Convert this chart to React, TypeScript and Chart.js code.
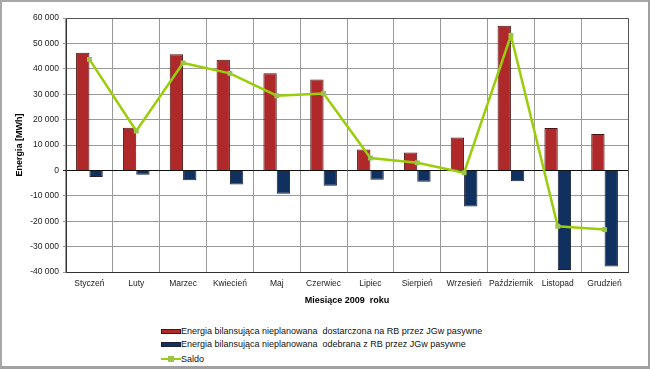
import React, { useEffect, useRef } from "react";
import { Chart, registerables } from "chart.js";

Chart.register(...registerables);

const months = ["Styczeń", "Luty", "Marzec", "Kwiecień", "Maj", "Czerwiec", "Lipiec", "Sierpień", "Wrzesień", "Październik", "Listopad", "Grudzień"];
const delivered = [46300, 16800, 45700, 43600, 38200, 35800, 8200, 7000, 13000, 56900, 16700, 14300];
const received = [-2600, -1700, -3900, -5600, -9200, -6000, -3700, -4500, -14200, -4300, -39200, -37800];
const saldo = [43700, 15500, 42300, 38200, 29400, 30300, 4900, 3000, -900, 53100, -22000, -23300];
const seriesNames = [
  "Energia bilansująca nieplanowana  dostarczona na RB przez JGw pasywne",
  "Energia bilansująca nieplanowana  odebrana z RB przez JGw pasywne",
  "Saldo",
];
const yTitle = "Energia [MWh]";
const xTitle = "Miesiące 2009  roku";

const FONT = "'Liberation Sans', Arial, sans-serif";
const RED = "#b0292a";
const RED_BORDER = "#4a1414";
const BLUE = "#10305f";
const BLUE_BORDER = "#1c2233";
const GREEN = "#9acd0a";
const GREEN_PT = "#9cc44a";

const fmt = (v: number) => {
  const s = Math.abs(v).toString().replace(/\B(?=(\d{3})+(?!\d))/g, " ");
  return (v < 0 ? "-" : "") + s;
};

const framePlugin = {
  id: "frameBorder",
  afterDatasetsDraw(chart: any) {
    const { ctx, chartArea } = chart;
    ctx.save();
    ctx.strokeStyle = "#555";
    ctx.lineWidth = 1;
    ctx.beginPath();
    ctx.moveTo(chartArea.left, chartArea.top + 0.5);
    ctx.lineTo(chartArea.right + 0.5, chartArea.top + 0.5);
    ctx.lineTo(chartArea.right + 0.5, chartArea.bottom);
    ctx.stroke();
    ctx.restore();
  },
};

export default function App() {
  const ref = useRef<HTMLCanvasElement | null>(null);
  useEffect(() => {
    if (!ref.current) return;
    const chart = new Chart(ref.current, {
      type: "bar",
      data: {
        labels: months,
        datasets: [
          {
            type: "line",
            label: seriesNames[2],
            data: saldo,
            borderColor: GREEN,
            backgroundColor: GREEN_PT,
            borderWidth: 2.5,
            pointStyle: "rect",
            pointRadius: 3.5,
            pointBackgroundColor: GREEN_PT,
            pointBorderColor: GREEN_PT,
            pointBorderWidth: 0,
            tension: 0,
            order: 0,
          } as any,
          {
            type: "bar",
            label: seriesNames[0],
            data: delivered,
            backgroundColor: RED,
            borderColor: RED_BORDER,
            borderWidth: 1,
            categoryPercentage: 0.57,
            barPercentage: 1,
            order: 1,
          },
          {
            type: "bar",
            label: seriesNames[1],
            data: received,
            backgroundColor: BLUE,
            borderColor: BLUE_BORDER,
            borderWidth: 1,
            categoryPercentage: 0.57,
            barPercentage: 1,
            order: 1,
          },
        ],
      },
      options: {
        responsive: false,
        animation: false,
        devicePixelRatio: 1,
        layout: { padding: { top: 18, right: 22, left: 0, bottom: 0 } },
        plugins: {
          legend: { display: false },
          tooltip: { enabled: false },
        },
        scales: {
          x: {
            offset: true,
            grid: {
              offset: true,
              color: "#9a9a9a",
              lineWidth: 1,
              drawTicks: false,
            },
            border: { color: "#333", width: 1 },
            ticks: {
              font: { family: FONT, size: 8.5 },
              color: "#222",
              padding: 7,
              maxRotation: 0,
              autoSkip: false,
            },
            title: {
              display: true,
              text: xTitle,
              font: { family: FONT, size: 9, weight: "bold" },
              color: "#000",
              padding: { top: 0, bottom: 5.6 },
            },
            afterFit: (s: any) => {
              s.height = 40;
            },
          },
          y: {
            min: -40000,
            max: 60000,
            grid: {
              color: (c: any) => (c.tick && c.tick.value === 0 ? "#111" : "#9a9a9a"),
              lineWidth: 1,
              tickLength: 3,
            },
            border: { color: "#333", width: 1 },
            ticks: {
              stepSize: 10000,
              font: { family: FONT, size: 8.5 },
              color: "#222",
              padding: 4,
              callback: (v: any) => fmt(Number(v)),
            },
            title: {
              display: true,
              text: yTitle,
              font: { family: FONT, size: 9, weight: "bold" },
              color: "#000",
              padding: { top: 14.6, bottom: 0 },
            },
            afterFit: (s: any) => {
              s.width = 66;
            },
          },
        },
      },
      plugins: [framePlugin],
    });
    return () => chart.destroy();
  }, []);

  const rowStyle = (top: number): React.CSSProperties => ({
    position: "absolute",
    left: 161,
    top: top - 7,
    height: 14,
    display: "flex",
    alignItems: "center",
    fontFamily: FONT,
    fontSize: 9,
    color: "#111",
    whiteSpace: "pre",
  });

  return (
    <div style={{ position: "fixed", left: 0, top: 0, width: 650, height: 369, background: "#fff" }}>
      <canvas ref={ref} width={650} height={312} style={{ position: "absolute", left: 0, top: 0, width: 650, height: 312 }} />
      <div style={rowStyle(331)}>
        <span style={{ display: "inline-block", width: 18, height: 3, background: RED, border: `1px solid ${RED_BORDER}` }} />
        <span>{seriesNames[0]}</span>
      </div>
      <div style={rowStyle(344)}>
        <span style={{ display: "inline-block", width: 18, height: 3, background: BLUE, border: `1px solid ${BLUE_BORDER}` }} />
        <span>{seriesNames[1]}</span>
      </div>
      <div style={rowStyle(359)}>
        <span style={{ position: "relative", display: "inline-block", width: 20, height: 6 }}>
          <span style={{ position: "absolute", left: 0, top: 2, width: 20, height: 2, background: GREEN }} />
          <span style={{ position: "absolute", left: 7, top: 0, width: 6, height: 6, background: GREEN_PT }} />
        </span>
        <span>{seriesNames[2]}</span>
      </div>
      <div
        style={{
          position: "absolute",
          left: 0,
          top: 0,
          width: 650,
          height: 369,
          boxSizing: "border-box",
          borderTop: "2px solid #a8a8a8",
          borderLeft: "2px solid #a8a8a8",
          borderRight: "2px solid #a0a0a0",
          borderBottom: "3px solid #a0a0a0",
          pointerEvents: "none",
        }}
      />
    </div>
  );
}
